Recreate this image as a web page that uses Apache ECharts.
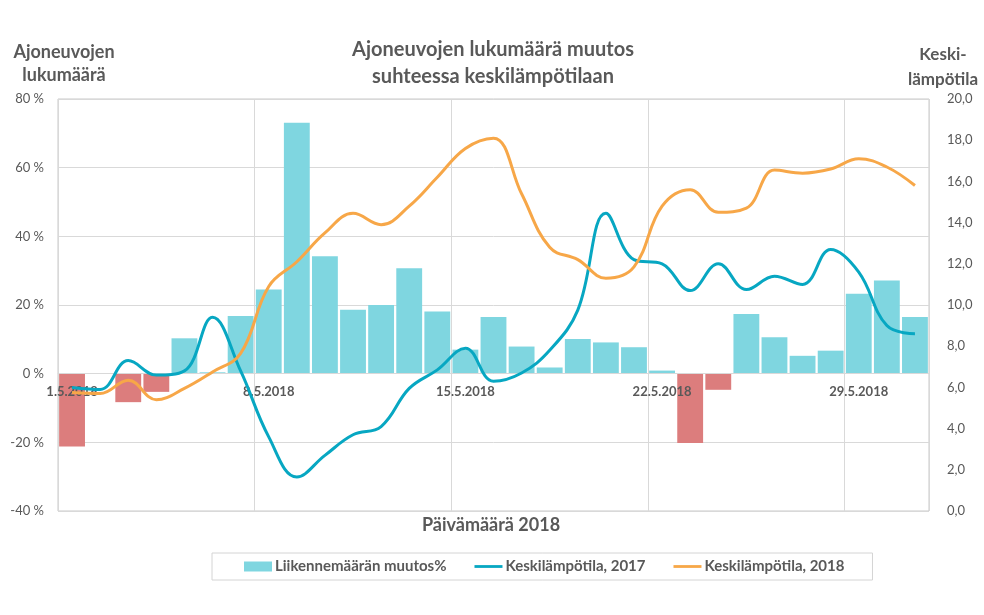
<!DOCTYPE html>
<html><head><meta charset="utf-8">
<script src="https://cdn.jsdelivr.net/npm/echarts@6/dist/echarts.min.js"></script>
<style>html,body{margin:0;padding:0;background:#fff}#c{width:984px;height:615px}</style>
</head><body><div id="c"></div>
<script>
const categories = ['1.5.2018','2.5.2018','3.5.2018','4.5.2018','5.5.2018','6.5.2018','7.5.2018','8.5.2018','9.5.2018','10.5.2018','11.5.2018','12.5.2018','13.5.2018','14.5.2018','15.5.2018','16.5.2018','17.5.2018','18.5.2018','19.5.2018','20.5.2018','21.5.2018','22.5.2018','23.5.2018','24.5.2018','25.5.2018','26.5.2018','27.5.2018','28.5.2018','29.5.2018','30.5.2018','31.5.2018'];
const trafficChange = [-21.2, 0, -8.3, -5.3, 10.3, 0.4, 16.8, 24.5, 73.1, 34.2, 18.6, 20.0, 30.7, 18.1, 7.0, 16.5, 7.9, 1.8, 10.1, 9.1, 7.7, 0.9, -20.2, -4.7, 17.4, 10.6, 5.2, 6.7, 23.3, 27.1, 16.5];
const temp2017 = [6.0, 5.9, 7.3, 6.6, 6.8, 9.4, 6.8, 3.6, 1.65, 2.7, 3.7, 4.1, 5.95, 6.85, 7.9, 6.3, 6.7, 7.8, 9.75, 14.45, 12.2, 12.0, 10.7, 12.0, 10.75, 11.4, 11.0, 12.7, 11.6, 9.0, 8.6];
const temp2018 = [5.75, 5.7, 6.35, 5.4, 5.95, 6.75, 7.65, 10.9, 12.1, 13.5, 14.45, 13.9, 14.8, 16.2, 17.6, 18.1, 15.4, 12.8, 12.2, 11.3, 11.85, 14.8, 15.6, 14.5, 14.7, 16.55, 16.4, 16.6, 17.1, 16.7, 15.8];
const leftTicks = {min: -40, max: 80, interval: 20};
const rightTicks = {min: 0, max: 20, interval: 2};

const FONT = 'Lato';
const TXT = '#595959';
const POS = '#7fd6e0', NEG = '#dc7d7d', C17 = '#07a7c2', C18 = '#f7a748';
const LINE_ICON = 'path://M0,0 L30,0 L30,3 L0,3 Z';

const GRID = {left: 58, right: 55, top: 99, bottom: 104};
const plotH = 615 - GRID.top - GRID.bottom;
// distance from the bottom of the plot to the zero line, derived from the left axis range
const zeroOffset = -plotH * (0 - leftTicks.min) / (leftTicks.max - leftTicks.min);

const chart = echarts.init(document.getElementById('c'), null, {renderer: 'canvas'});
chart.setOption({
  animation: false,
  textStyle: {fontFamily: FONT},
  title: [
    {text: 'Ajoneuvojen lukumäärä muutos\nsuhteessa keskilämpötilaan', left: 488, top: 31, textAlign: 'center',
     textStyle: {fontFamily: FONT, fontSize: 20, fontWeight: 'bold', color: TXT, lineHeight: 27}},
    {text: 'Ajoneuvojen\nlukumäärä', left: 59, top: 36, textAlign: 'center',
     textStyle: {fontFamily: FONT, fontSize: 18, fontWeight: 'bold', color: TXT, lineHeight: 23}},
    {text: 'Keski-\nlämpötila', left: 938, top: 37, textAlign: 'center',
     textStyle: {fontFamily: FONT, fontSize: 17, fontWeight: 'bold', color: TXT, lineHeight: 25}},
    {text: 'Päivämäärä 2018', left: 486, top: 511, textAlign: 'center',
     textStyle: {fontFamily: FONT, fontSize: 18, fontWeight: 'bold', color: TXT}}
  ],
  legend: {
    left: 212, top: 553,
    padding: [6, 28, 6, 32],
    borderColor: '#d4d4d4', borderWidth: 1,
    itemGap: 28, itemWidth: 28, itemHeight: 10,
    textStyle: {fontFamily: FONT, fontSize: 15, fontWeight: 'bold', color: TXT, padding: [0,0,0,-2]},
    data: [
      {name: 'Liikennemäärän muutos%', icon: 'rect', itemStyle: {color: POS}},
      {name: 'Keskilämpötila, 2017', icon: LINE_ICON, itemStyle: {color: C17}},
      {name: 'Keskilämpötila, 2018', icon: LINE_ICON, itemStyle: {color: C18}}
    ]
  },
  grid: Object.assign({show: true, borderColor: '#c8c8c8', borderWidth: 1}, GRID),
  xAxis: {
    type: 'category', data: categories, boundaryGap: true, position: 'bottom',
    offset: zeroOffset, z: 2,
    axisLine: {onZero: false, lineStyle: {color: '#d9d9d9', width: 1}},
    axisTick: {show: false},
    axisLabel: {interval: 6, color: TXT, fontFamily: FONT, fontSize: 13, fontWeight: 'bold', margin: 12},
    splitLine: {show: true, interval: 6, lineStyle: {color: '#d9d9d9', width: 1}}
  },
  yAxis: [
    {type: 'value', min: leftTicks.min, max: leftTicks.max, interval: leftTicks.interval,
     axisLine: {show: false}, axisTick: {show: false},
     axisLabel: {formatter: '{value} %', color: TXT, fontFamily: FONT, fontSize: 13, margin: 14},
     splitLine: {lineStyle: {color: '#d9d9d9', width: 1}}},
    {type: 'value', min: rightTicks.min, max: rightTicks.max, interval: rightTicks.interval,
     axisLine: {show: false}, axisTick: {show: false},
     axisLabel: {formatter: v => v.toFixed(1).replace('.', ','), color: TXT, fontFamily: FONT, fontSize: 13, margin: 18},
     splitLine: {show: false}}
  ],
  series: [
    {name: 'Liikennemäärän muutos%', type: 'bar', yAxisIndex: 0, barCategoryGap: '8%', z: 1,
     itemStyle: {color: POS},
     data: trafficChange.map(v => v < 0 ? {value: v, itemStyle: {color: NEG}} : v)},
    {name: 'Keskilämpötila, 2017', type: 'line', yAxisIndex: 1, smooth: 0.4, symbol: 'none', z: 3,
     lineStyle: {color: C17, width: 3}, itemStyle: {color: C17}, data: temp2017},
    {name: 'Keskilämpötila, 2018', type: 'line', yAxisIndex: 1, smooth: 0.4, symbol: 'none', z: 4,
     lineStyle: {color: C18, width: 3}, itemStyle: {color: C18}, data: temp2018}
  ]
});
</script></body></html>
